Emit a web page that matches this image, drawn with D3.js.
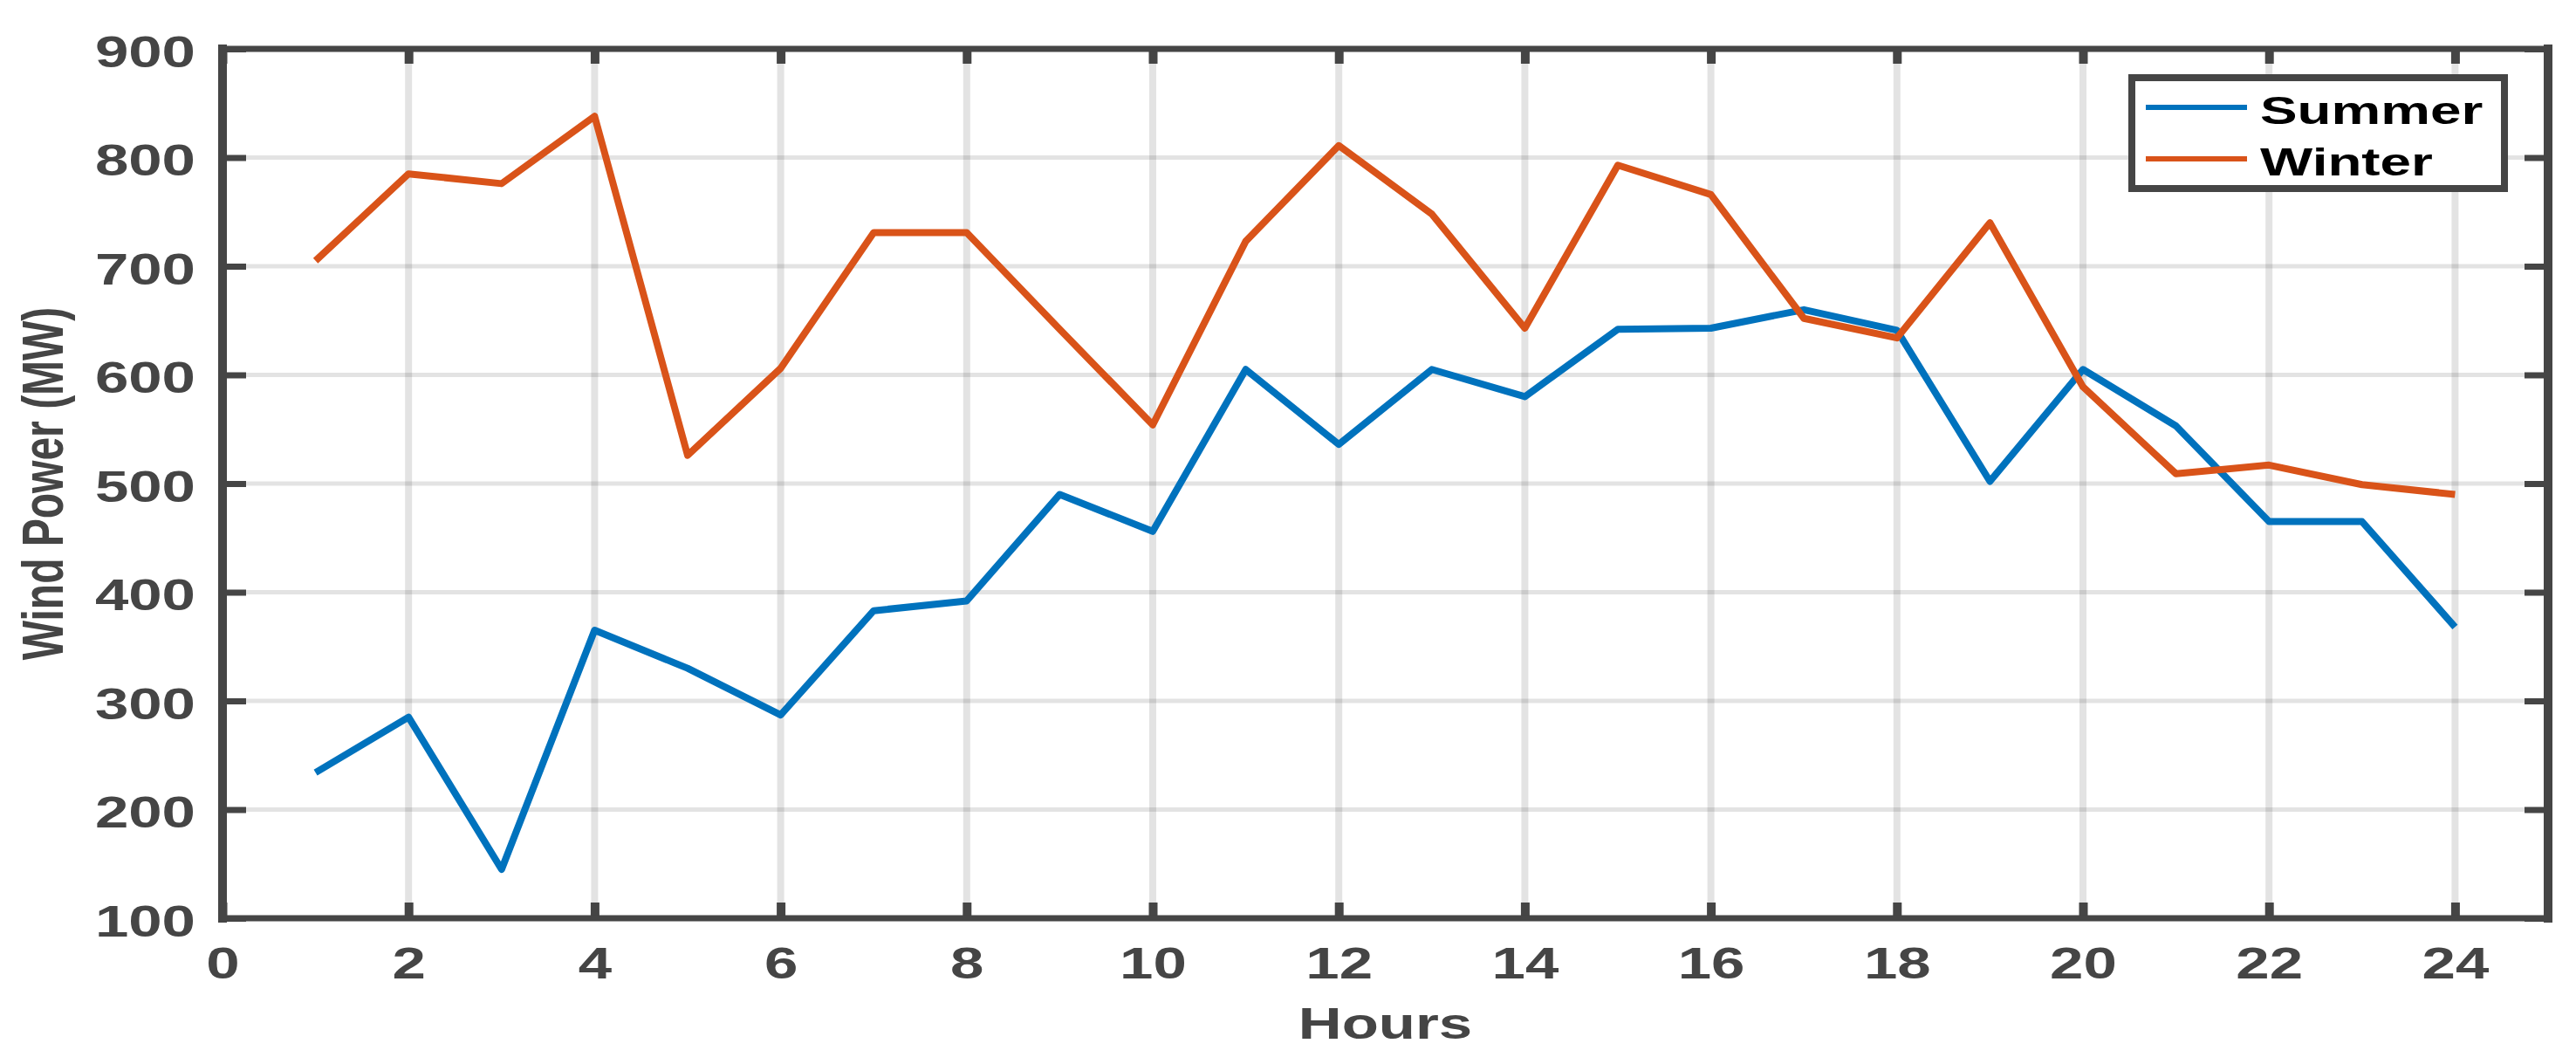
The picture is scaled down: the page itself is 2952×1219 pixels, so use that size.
<!DOCTYPE html>
<html lang="en">
<head>
<meta charset="UTF-8"/>
<title>Wind Power - Summer vs Winter</title>
<script src="https://d3js.org/d3.v7.min.js"></script>
<style>
  body { margin: 0; background: #fff; }
  svg { display: block; }
  text { font-family: "Liberation Sans", Arial, sans-serif; }
</style>
</head>
<body>
<script>
    //chart values
    var hours = [1, 2, 3, 4, 5, 6, 7, 8, 9, 10, 11, 12, 13, 14, 15, 16, 17, 18, 19, 20, 21, 22, 23, 24];
    var summer = [234, 285, 145, 365, 330, 287, 383, 392, 490, 456, 605, 536, 605, 580, 642, 643, 660, 641, 502, 605, 553, 465, 465, 368];
    var winter = [705, 785, 776, 838, 526, 606, 731, 731, 642, 554, 723, 811, 748, 643, 793, 766, 652, 634, 740, 589, 509, 517, 499, 490];
    var seriesNames = ["Summer", "Winter"];
    var seriesColors = ["#0072BD", "#D95319"];
    var xTicks = [0, 2, 4, 6, 8, 10, 12, 14, 16, 18, 20, 22, 24];
    var yTicks = [100, 200, 300, 400, 500, 600, 700, 800, 900];

    var w = 2952;
    var h = 1219;
    //plot box edges (window.top is taken, so prefix them)
    var pLeft = 255, pRight = 2920, pTop = 56, pBottom = 1052;
    var axisColor = "#454545";
    var stretch = 1.38; //the reference text is stretched sideways

    var xScale = d3.scaleLinear().domain([0, 25]).range([pLeft, pRight]);
    var yScale = d3.scaleLinear().domain([100, 900]).range([pBottom, pTop]);

    var svg = d3.select("body")
        .append("svg")
        .attr("width", w)
        .attr("height", h);

    svg.append("rect").attr("width", w).attr("height", h).attr("fill", "#fff");

    //grid lines, see-through so the crossings come out darker
    svg.append("g")
        .selectAll("line")
        .data(xTicks.filter(function (d) { return d > 0; }))
        .enter()
        .append("line")
        .attr("x1", function (d) { return xScale(d); })
        .attr("x2", function (d) { return xScale(d); })
        .attr("y1", pTop)
        .attr("y2", pBottom)
        .attr("stroke", "#262626")
        .attr("stroke-opacity", 0.13)
        .attr("stroke-width", 8);

    svg.append("g")
        .selectAll("line")
        .data(yTicks.filter(function (d) { return d > 100 && d < 900; }))
        .enter()
        .append("line")
        .attr("x1", pLeft)
        .attr("x2", pRight)
        .attr("y1", function (d) { return yScale(d); })
        .attr("y2", function (d) { return yScale(d); })
        .attr("stroke", "#262626")
        .attr("stroke-opacity", 0.13)
        .attr("stroke-width", 5);

    //data lines
    var line = d3.line()
        .x(function (d) { return xScale(d[0]); })
        .y(function (d) { return yScale(d[1]); });

    [summer, winter].forEach(function (vals, i) {
        svg.append("path")
            .datum(hours.map(function (hr, j) { return [hr, vals[j]]; }))
            .attr("d", line)
            .attr("fill", "none")
            .attr("stroke", seriesColors[i])
            .attr("stroke-width", 8)
            .attr("stroke-linejoin", "round");
    });

    //axes with inward ticks
    var xAxis = svg.append("g")
        .attr("transform", "translate(0," + pBottom + ")")
        .call(d3.axisBottom(xScale).tickValues(xTicks).tickSizeInner(-18).tickSizeOuter(0));
    xAxis.select(".domain").remove();
    xAxis.selectAll("line").attr("stroke", axisColor).attr("stroke-width", 10);
    xAxis.selectAll("text")
        .attr("y", null).attr("dy", null)
        .attr("transform", "translate(0,69) scale(" + stretch + ",1)")
        .attr("text-anchor", "middle")
        .attr("fill", axisColor)
        .attr("font-size", 50)
        .attr("font-weight", "bold");

    var xTop = svg.append("g")
        .attr("transform", "translate(0," + pTop + ")")
        .call(d3.axisTop(xScale).tickValues(xTicks).tickSizeInner(-17).tickSizeOuter(0).tickFormat(""));
    xTop.select(".domain").remove();
    xTop.selectAll("line").attr("stroke", axisColor).attr("stroke-width", 10);

    var yAxis = svg.append("g")
        .attr("transform", "translate(" + pLeft + ",0)")
        .call(d3.axisLeft(yScale).tickValues(yTicks).tickSizeInner(-27).tickSizeOuter(0));
    yAxis.select(".domain").remove();
    yAxis.selectAll("line").attr("stroke", axisColor).attr("stroke-width", 7);
    yAxis.selectAll("text")
        .attr("x", null).attr("dy", null)
        .attr("transform", "translate(-31,20) scale(" + stretch + ",1)")
        .attr("text-anchor", "end")
        .attr("fill", axisColor)
        .attr("font-size", 50)
        .attr("font-weight", "bold");

    var yRight = svg.append("g")
        .attr("transform", "translate(" + pRight + ",0)")
        .call(d3.axisRight(yScale).tickValues(yTicks).tickSizeInner(-27).tickSizeOuter(0).tickFormat(""));
    yRight.select(".domain").remove();
    yRight.selectAll("line").attr("stroke", axisColor).attr("stroke-width", 7);

    //box round the plot
    var frame = svg.append("g").attr("stroke", axisColor).attr("stroke-linecap", "square");
    frame.append("line").attr("x1", pLeft).attr("x2", pRight).attr("y1", pTop).attr("y2", pTop).attr("stroke-width", 7);
    frame.append("line").attr("x1", pLeft).attr("x2", pRight).attr("y1", pBottom).attr("y2", pBottom).attr("stroke-width", 7);
    frame.append("line").attr("x1", pLeft).attr("x2", pLeft).attr("y1", pTop).attr("y2", pBottom).attr("stroke-width", 10);
    frame.append("line").attr("x1", pRight).attr("x2", pRight).attr("y1", pTop).attr("y2", pBottom).attr("stroke-width", 10);

    //axis titles
    svg.append("text")
        .text("Hours")
        .attr("transform", "translate(" + (pLeft + pRight) / 2 + ",1190) scale(" + stretch + ",1)")
        .attr("text-anchor", "middle")
        .attr("fill", axisColor)
        .attr("font-size", 50)
        .attr("font-weight", "bold");

    svg.append("text")
        .text("Wind Power (MW)")
        .attr("transform", "translate(72," + (pTop + pBottom) / 2 + ") scale(1.4,1) rotate(-90)")
        .attr("text-anchor", "middle")
        .attr("fill", axisColor)
        .attr("font-size", 48)
        .attr("font-weight", "bold");

    //legend
    var legend = svg.append("g");
    legend.append("rect")
        .attr("x", 2443).attr("y", 89)
        .attr("width", 427).attr("height", 127)
        .attr("fill", "#fff")
        .attr("stroke", axisColor)
        .attr("stroke-width", 8);

    var items = legend.selectAll("g.item")
        .data(seriesNames)
        .enter()
        .append("g")
        .attr("class", "item")
        .attr("transform", function (d, i) { return "translate(0," + (123 + i * 59) + ")"; });

    items.append("line")
        .attr("x1", 2459).attr("x2", 2575)
        .attr("stroke", function (d, i) { return seriesColors[i]; })
        .attr("stroke-width", 6);

    items.append("text")
        .text(function (d) { return d; })
        .attr("transform", "translate(2590,19) scale(1.45,1)")
        .attr("fill", "#000")
        .attr("font-size", 44)
        .attr("font-weight", "bold");
</script>
</body>
</html>
